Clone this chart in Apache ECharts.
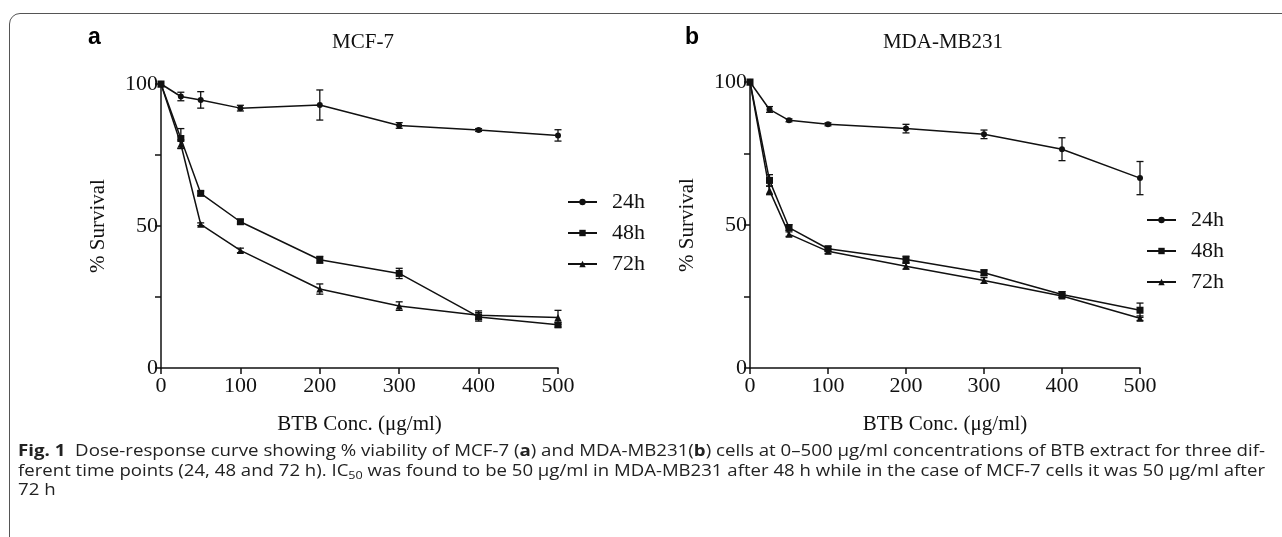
<!DOCTYPE html>
<html>
<head>
<meta charset="utf-8">
<script src="https://cdn.jsdelivr.net/npm/echarts@6/dist/echarts.min.js"></script>
<style>
  html, body { margin: 0; padding: 0; background: #fff; }
  #wrap { position: relative; width: 1282px; height: 537px; overflow: hidden; background: #fff; }
  #frame { position: absolute; left: 9px; top: 13px; width: 1320px; height: 600px;
           border: 1.5px solid #555; border-radius: 11px; box-sizing: border-box; }
  #chart { position: absolute; left: 0; top: 0; width: 1282px; height: 440px; }
  #caption { position: absolute; left: 18px; top: 441px; width: 1247px;
             font-family: "Open Sans", "Noto Sans", sans-serif;
             font-size: 15.5px; line-height: 19.5px; color: #222; }
  #caption .ln { display: block; white-space: nowrap; }
  #caption .ln span.t { display: inline-block; transform-origin: 0 50%; }
  #caption b { font-weight: bold; }
  #caption sub { font-size: 10.5px; vertical-align: -3px; line-height: 0; }
</style>
</head>
<body>
<div id="wrap">
  <div id="frame"></div>
  <div id="chart"></div>
  <div id="caption">
    <div class="ln fit"><span class="t"><b>Fig. 1</b>&nbsp; Dose-response curve showing % viability of MCF-7 (<b>a</b>) and MDA-MB231(<b>b</b>) cells at 0–500 μg/ml concentrations of BTB extract for three dif-</span></div>
    <div class="ln fit"><span class="t">ferent time points (24, 48 and 72 h). IC<sub>50</sub> was found to be 50 μg/ml in MDA-MB231 after 48 h while in the case of MCF-7 cells it was 50 μg/ml after</span></div>
    <div class="ln"><span class="t" id="last">72 h</span></div>
  </div>
</div>
<script>
// ---- data ----
const conc = [0, 25, 50, 100, 200, 300, 400, 500];
const seriesNames = ['24h', '48h', '72h'];
const panelTitles = ['MCF-7', 'MDA-MB231'];
const panelLetters = ['a', 'b'];
const xTicks = [0, 100, 200, 300, 400, 500];
const yTicks = [0, 50, 100];

const mcf24 = [100, 95.6, 94.4, 91.5, 92.6, 85.4, 83.8, 81.9];
const mcf24Err = [0, 1.5, 2.9, 1.0, 5.3, 1.0, 0.5, 2.0];
const mcf48 = [100, 80.8, 61.5, 51.5, 38.1, 33.3, 18.0, 15.2];
const mcf48Err = [0, 3.5, 0.8, 0.8, 1.2, 1.8, 1.5, 0.8];
const mcf72 = [100, 78.8, 50.6, 41.4, 27.8, 21.8, 18.6, 17.8];
const mcf72Err = [0, 1.5, 0.5, 0.8, 1.8, 1.5, 1.5, 2.5];

const mda24 = [100, 90.4, 86.6, 85.2, 83.7, 81.7, 76.5, 66.4];
const mda24Err = [0, 1.0, 0.5, 0.5, 1.5, 1.5, 4.0, 5.8];
const mda48 = [100, 65.6, 49.1, 41.7, 37.9, 33.3, 25.7, 20.2];
const mda48Err = [0, 2.0, 1.0, 0.8, 1.2, 1.0, 1.0, 2.5];
const mda72 = [100, 62.1, 46.8, 40.8, 35.6, 30.6, 25.2, 17.4];
const mda72Err = [0, 1.5, 0.8, 0.8, 1.0, 1.0, 0.8, 0.8];

// ---- caption fitting (lines 1 and 2 are justified to full width in the source) ----
let capScale = 1;
document.querySelectorAll('#caption .fit span.t').forEach((el, i) => {
  const w = el.getBoundingClientRect().width;
  const s = 1247 / w;
  if (i === 0) capScale = s;
  el.style.transform = 'scaleX(' + s + ')';
});
document.getElementById('last').style.transform = 'scaleX(' + capScale + ')';

// ---- build ----
const panels = [
  { vals: [mcf24, mcf48, mcf72], errs: [mcf24Err, mcf48Err, mcf72Err] },
  { vals: [mda24, mda48, mda72], errs: [mda24Err, mda48Err, mda72Err] }
];
const symbols = ['circle', 'rect', 'triangle'];
const symbolSizes = [6, 7, 7];
const serif = '"Liberation Serif", "Times New Roman", serif';
const ink = '#111';

const grids = [
  { left: 161, top: 84, width: 397, height: 289 },
  { left: 750, top: 82, width: 390, height: 289 }
];

function xAxisFor(i) {
  return {
    gridIndex: i, type: 'value', min: 0, max: 500, interval: 100,
    axisLine: { show: true, onZero: false, lineStyle: { color: ink, width: 1.5 } },
    axisTick: { show: true, inside: false, length: 6, lineStyle: { color: ink, width: 1.5 } },
    splitLine: { show: false },
    axisLabel: { color: ink, fontFamily: serif, fontSize: 22, margin: 7,
      formatter: v => xTicks.includes(v) ? String(v) : '' },
    name: 'BTB Conc. (μg/ml)', nameLocation: 'middle', nameGap: 46,
    nameTextStyle: { color: ink, fontFamily: serif, fontSize: 21 }
  };
}
function yAxisFor(i) {
  return {
    gridIndex: i, type: 'value', min: 0, max: 100, interval: 25,
    axisLine: { show: true, onZero: false, lineStyle: { color: ink, width: 1.5 } },
    axisTick: { show: true, inside: false, length: 6, lineStyle: { color: ink, width: 1.5 } },
    splitLine: { show: false },
    axisLabel: { color: ink, fontFamily: serif, fontSize: 22, margin: 3,
      formatter: v => yTicks.includes(v) ? String(v) : '' },
    name: '% Survival', nameLocation: 'middle', nameGap: 52, nameRotate: 90,
    nameTextStyle: { color: ink, fontFamily: serif, fontSize: 21 }
  };
}

const series = [];
panels.forEach((p, pi) => {
  p.vals.forEach((vals, si) => {
    series.push({
      name: seriesNames[si], type: 'line', xAxisIndex: pi, yAxisIndex: pi,
      data: conc.map((c, k) => [c, vals[k]]),
      symbol: symbols[si], symbolSize: symbolSizes[si], showSymbol: true,
      lineStyle: { color: ink, width: 1.5 }, itemStyle: { color: ink },
      emphasis: { disabled: true }, animation: false, z: 3
    });
    series.push({
      type: 'custom', xAxisIndex: pi, yAxisIndex: pi, silent: true, animation: false, z: 4,
      data: conc.map((c, k) => [c, vals[k], p.errs[si][k]]),
      renderItem: function (params, api) {
        const x = api.value(0), y = api.value(1), e = api.value(2);
        if (!e) return null;
        const top = api.coord([x, y + e]);
        const bot = api.coord([x, y - e]);
        const w = 3.5;
        const st = { stroke: ink, lineWidth: 1.3 };
        return { type: 'group', children: [
          { type: 'line', shape: { x1: top[0], y1: top[1], x2: bot[0], y2: bot[1] }, style: st },
          { type: 'line', shape: { x1: top[0] - w, y1: top[1], x2: top[0] + w, y2: top[1] }, style: st },
          { type: 'line', shape: { x1: bot[0] - w, y1: bot[1], x2: bot[0] + w, y2: bot[1] }, style: st }
        ]};
      }
    });
  });
});

const legendBase = {
  orient: 'vertical', itemWidth: 29, itemHeight: 8, itemGap: 9,
  data: seriesNames, selectedMode: false,
  textStyle: { color: ink, fontFamily: serif, fontSize: 22, padding: [0, 0, 0, 10] }
};

const option = {
  backgroundColor: 'transparent',
  animation: false,
  title: [
    { text: panelTitles[0], left: 358, top: 27, textAlign: 'center',
      textStyle: { color: ink, fontFamily: serif, fontSize: 21, fontWeight: 'normal' } },
    { text: panelTitles[1], left: 938, top: 27, textAlign: 'center',
      textStyle: { color: ink, fontFamily: serif, fontSize: 21, fontWeight: 'normal' } }
  ],
  graphic: [
    { type: 'text', left: 88, top: 26, style: { text: panelLetters[0], fill: '#000',
      font: 'bold 23px "Liberation Sans", Arial, sans-serif' } },
    { type: 'text', left: 685, top: 26, style: { text: panelLetters[1], fill: '#000',
      font: 'bold 23px "Liberation Sans", Arial, sans-serif' } }
  ],
  legend: [
    Object.assign({}, legendBase, { left: 562, top: 186 }),
    Object.assign({}, legendBase, { left: 1141, top: 204 })
  ],
  grid: grids,
  xAxis: [xAxisFor(0), xAxisFor(1)],
  yAxis: [yAxisFor(0), yAxisFor(1)],
  series: series
};

const chart = echarts.init(document.getElementById('chart'), null, { renderer: 'canvas' });
chart.setOption(option);
</script>
</body>
</html>
